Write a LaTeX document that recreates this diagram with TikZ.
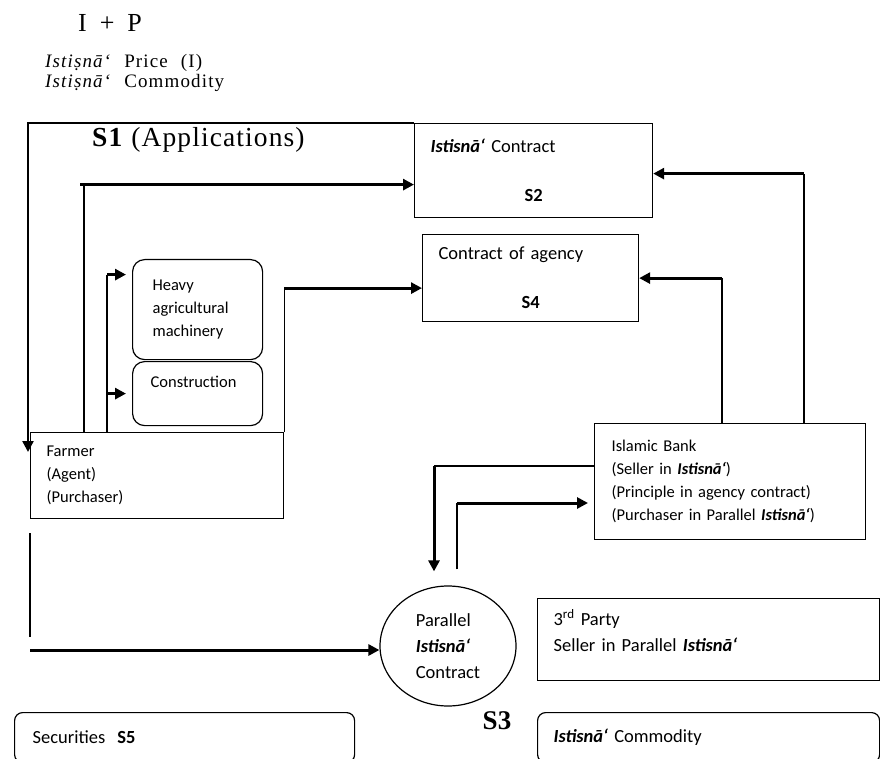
\documentclass[tikz,border=0pt]{standalone}
\usepackage{fontspec}
\setmainfont{Liberation Serif}
\newfontfamily\boxfont{Carlito}
\newfontfamily\wideserif[LetterSpace=6,WordSpace=2.2]{Liberation Serif}
\newfontfamily\plusserif[WordSpace=2]{Liberation Serif}
\newfontfamily\titleserif[LetterSpace=4]{Liberation Serif}
\usetikzlibrary{calc,shapes.geometric,arrows.meta}

\tikzset{
  box/.style={draw, line width=1.2pt, anchor=north west, align=left, inner ysep=0pt, inner xsep=16pt,
    font=\boxfont\fontsize{18.5}{26}\selectfont},
  smallbox/.style={box, font=\boxfont\fontsize{16.5}{23}\selectfont},
  line/.style={line width=1.2pt},
  flow/.style={line width=3pt, -{Triangle[length=11pt,width=11pt]}},
}

\begin{document}
\begin{tikzpicture}[x=1pt, y=-1pt, auto]
    \useasboundingbox (0, 0) rectangle (880, 759);
    \clip (0, 0) rectangle (880, 759);
    \def\ist{\textbf{\textit{Istisnā‘}}}

    % titles
    \node[font=\plusserif\fontsize{26}{30}\selectfont] (ip) at (110, 23) {I + P};
    \node[anchor=base west, inner sep=0pt, font=\wideserif\fontsize{19}{22}\selectfont] (price) at (45, 68) {\textit{Istiṣnā‘} Price (I)};
    \node[anchor=base west, inner sep=0pt, font=\wideserif\fontsize{19}{22}\selectfont] (commo) at (45, 88) {\textit{Istiṣnā‘} Commodity};
    \node[anchor=base west, inner sep=0pt, font=\titleserif\fontsize{27.5}{30}\selectfont] (sone) at (92, 147) {\textbf{S1} (Applications)};

    % boxes
    \node[box, minimum width=238pt, minimum height=94pt, text width=206pt] (contract) at (414, 123)
        {\ist{} Contract\\[23pt]\hfill\textbf{S2}\hfill\null};
    \node[box, minimum width=216pt, minimum height=87pt, text width=184pt] (agency) at (422, 234)
        {Contract of agency\\[23pt]\hfill\textbf{S4}\hfill\null};
    \node[smallbox, rounded corners=12pt, inner xsep=20pt, minimum width=130pt, minimum height=100pt, text width=90pt] (heavy) at (132, 259)
        {Heavy\\agricultural\\machinery};
    \node[smallbox, rounded corners=12pt, inner xsep=18pt, minimum width=130pt, minimum height=64pt, text width=94pt] (constr) at (132, 361)
        {Construction\\\null};
    \node[smallbox, minimum width=253pt, minimum height=86pt, text width=221pt] (farmer) at (30, 432)
        {Farmer\\(Agent)\\(Purchaser)};
    \node[smallbox, inner xsep=17pt, minimum width=271pt, minimum height=116pt, text width=237pt] (bank) at (594, 423)
        {Islamic Bank\\(Seller in \ist)\\(Principle in agency contract)\\(Purchaser in Parallel \ist)};
    \node[draw, ellipse, line width=1.2pt, inner sep=0pt, minimum width=136pt, minimum height=120pt, align=left,
        font=\boxfont\fontsize{18.5}{26}\selectfont] (par) at (448, 646)
        {Parallel\\\ist\\Contract};
    \node[box, minimum width=342pt, minimum height=82pt, text width=310pt] (third) at (537, 598)
        {3\textsuperscript{rd} Party\\Seller in Parallel \ist\\[-8pt]\null};
    \node[box, rounded corners=8pt, inner xsep=18pt, minimum width=340pt, minimum height=50pt, text width=304pt] (sec) at (14, 712)
        {Securities\hspace{6pt} \textbf{S5}};
    \node[box, rounded corners=8pt, minimum width=342pt, minimum height=50pt, text width=310pt] (goods) at (537, 712)
        {\ist{} Commodity};
    \node[font=\bfseries\fontsize{27}{30}\selectfont] (sthree) at (497, 721) {S3};

    % connectors
    \coordinate (fa) at ([shift={(-2,20)}]farmer.north west);
    \coordinate (f1) at ([xshift=54pt]farmer.north west);
    \coordinate (f2) at ([xshift=77pt]farmer.north west);
    \coordinate (f3) at ([shift={(0,14)}]farmer.south west);
    \coordinate (c2in) at ([shift={(0,14)}]contract.west);
    \coordinate (c2out) at ([shift={(0,3)}]contract.east);
    \coordinate (a4in) at ([shift={(0,10)}]agency.west);
    \coordinate (hin) at ([shift={(-6,-35)}]heavy.west);
    \coordinate (cin) at ([xshift=-6pt]constr.west);
    \coordinate (b1) at ([xshift=210pt]bank.north west);
    \coordinate (b2) at ([xshift=128pt]bank.north west);
    \coordinate (b3) at ([shift={(0,43)}]bank.north west);
    \coordinate (b4) at ([shift={(-6,80)}]bank.north west);
    \coordinate (p1) at ([shift={(-14,-14)}]par.north);
    \coordinate (p2) at ([shift={(9,-16)}]par.north);
    \coordinate (pin) at ([shift={(0,4)}]par.west);
    \coordinate (f5) at (f3 |- pin);

    \draw [flow, line width=2.4pt] (contract.north west) -| (fa);

    \draw [line] (f1) -- (f1 |- c2in);
    \draw [flow] ([xshift=-4pt]f1 |- c2in) -- (c2in);

    \draw [line] (f2) -- (f2 |- hin);
    \draw [flow] (f2 |- hin) -- (hin);
    \draw [flow] (f2 |- cin) -- (cin);

    \draw [line] (farmer.north east) -- (farmer.north east |- a4in);
    \draw [flow] (farmer.north east |- a4in) -- (a4in);

    \draw [line] (b1) -- (b1 |- c2out);
    \draw [flow] (b1 |- c2out) -- (c2out);
    \draw [line] (b2) -- (b2 |- agency.east);
    \draw [flow] (b2 |- agency.east) -- (agency.east);

    \draw [line] (b3) -- (b3 -| p1);
    \draw [flow] (b3 -| p1) -- (p1);
    \draw [line] (p2) -- (p2 |- b4);
    \draw [flow] (p2 |- b4) -- (b4);

    \draw [line] (f3) -- ([yshift=13pt]f5);
    \draw [flow] (f5) -- (pin);
\end{tikzpicture}
\end{document}
